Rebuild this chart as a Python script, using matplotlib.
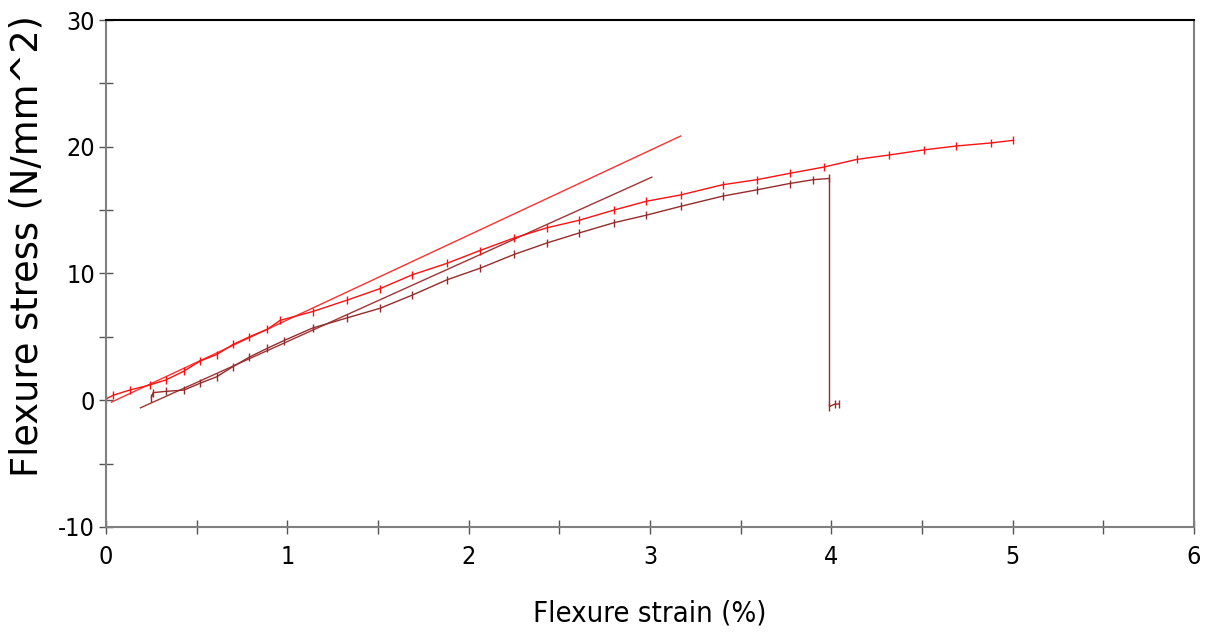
import matplotlib.pyplot as plt

# Data ===========================================
# specimen 1 (bright red)
strain_a = [0.0, 0.04, 0.13, 0.24, 0.33, 0.43, 0.52, 0.61, 0.70, 0.79, 0.89, 0.96,
            1.14, 1.33, 1.51, 1.69, 1.88, 2.06, 2.25, 2.43, 2.61, 2.80, 2.98, 3.17,
            3.40, 3.59, 3.77, 3.96, 4.14, 4.32, 4.51, 4.69, 4.88, 5.00]
stress_a = [0.1, 0.4, 0.8, 1.2, 1.6, 2.3, 3.1, 3.6, 4.4, 5.0, 5.6, 6.3,
            7.0, 7.9, 8.8, 9.9, 10.8, 11.8, 12.8, 13.6, 14.2, 15.0, 15.7, 16.2,
            17.0, 17.4, 17.9, 18.4, 19.0, 19.35, 19.75, 20.06, 20.3, 20.5]

# specimen 2 (dark red), breaks at ~4 %
strain_b = [0.25, 0.26, 0.33, 0.43, 0.52, 0.61, 0.70, 0.79, 0.89, 0.98, 1.14, 1.33,
            1.51, 1.69, 1.88, 2.06, 2.25, 2.43, 2.61, 2.80, 2.98, 3.17, 3.40, 3.59,
            3.77, 3.90, 3.99, 3.99, 4.02, 4.04]
stress_b = [0.2, 0.6, 0.7, 0.8, 1.35, 1.85, 2.65, 3.4, 4.1, 4.7, 5.7, 6.5,
            7.25, 8.3, 9.5, 10.4, 11.5, 12.4, 13.2, 14.0, 14.6, 15.3, 16.1, 16.6,
            17.1, 17.4, 17.5, -0.5, -0.3, -0.3]

# modulus (tangent) lines: start / end points
tan_a_x = [0.03, 3.17]
tan_a_y = [-0.15, 20.85]
tan_b_x = [0.19, 3.01]
tan_b_y = [-0.6, 17.6]

# General ========================================
fig = plt.figure(figsize=(12.06, 6.39), dpi=100)
ax = fig.add_axes([0.0879, 0.1753, 0.9021, 0.7934])

red = '#ff1010'
dark = '#962b2b'

ax.plot(tan_a_x, tan_a_y, color='#ff3030', linewidth=1)
ax.plot(tan_b_x, tan_b_y, color='#a03535', linewidth=1)
ax.plot(strain_b, stress_b, color=dark, linewidth=1,
        marker='|', markersize=6, markeredgewidth=1)
ax.plot(strain_a, stress_a, color=red, linewidth=1,
        marker='|', markersize=6, markeredgewidth=1)

ax.set_xlim(0, 6)
ax.set_ylim(-10, 30)
ax.set_xticks([0, 1, 2, 3, 4, 5, 6])
ax.set_xticks([0.5, 1.5, 2.5, 3.5, 4.5, 5.5], minor=True)
ax.set_yticks([-10, 0, 10, 20, 30])
ax.set_yticks([-5, 5, 15, 25], minor=True)

tick_font = {'family': 'DejaVu Sans', 'stretch': 'condensed', 'size': 18}
ax.set_xticklabels(['0', '1', '2', '3', '4', '5', '6'], fontdict=tick_font)
ax.set_yticklabels(['-10', '0', '10', '20', '30'], fontdict=tick_font)
ax.tick_params(which='both', direction='inout', length=10, width=1, color='#555555')
ax.tick_params(axis='x', which='both', pad=8)
ax.tick_params(axis='y', which='both', pad=3)

ax.set_xlabel('Flexure strain (%)', family='DejaVu Sans', stretch='condensed',
              size=21, labelpad=22)
ax.set_ylabel('Flexure stress (N/mm^2)', family='DejaVu Sans', size=26.5)
ax.yaxis.set_label_coords(-0.056, 0.554)

# Styling ========================================
for side in ['bottom', 'left', 'right']:
    ax.spines[side].set_color('#808080')
    ax.spines[side].set_linewidth(1.5)
ax.spines['top'].set_color('black')
ax.spines['top'].set_linewidth(1.5)

fig.savefig('out.png', dpi=100, facecolor='white')
